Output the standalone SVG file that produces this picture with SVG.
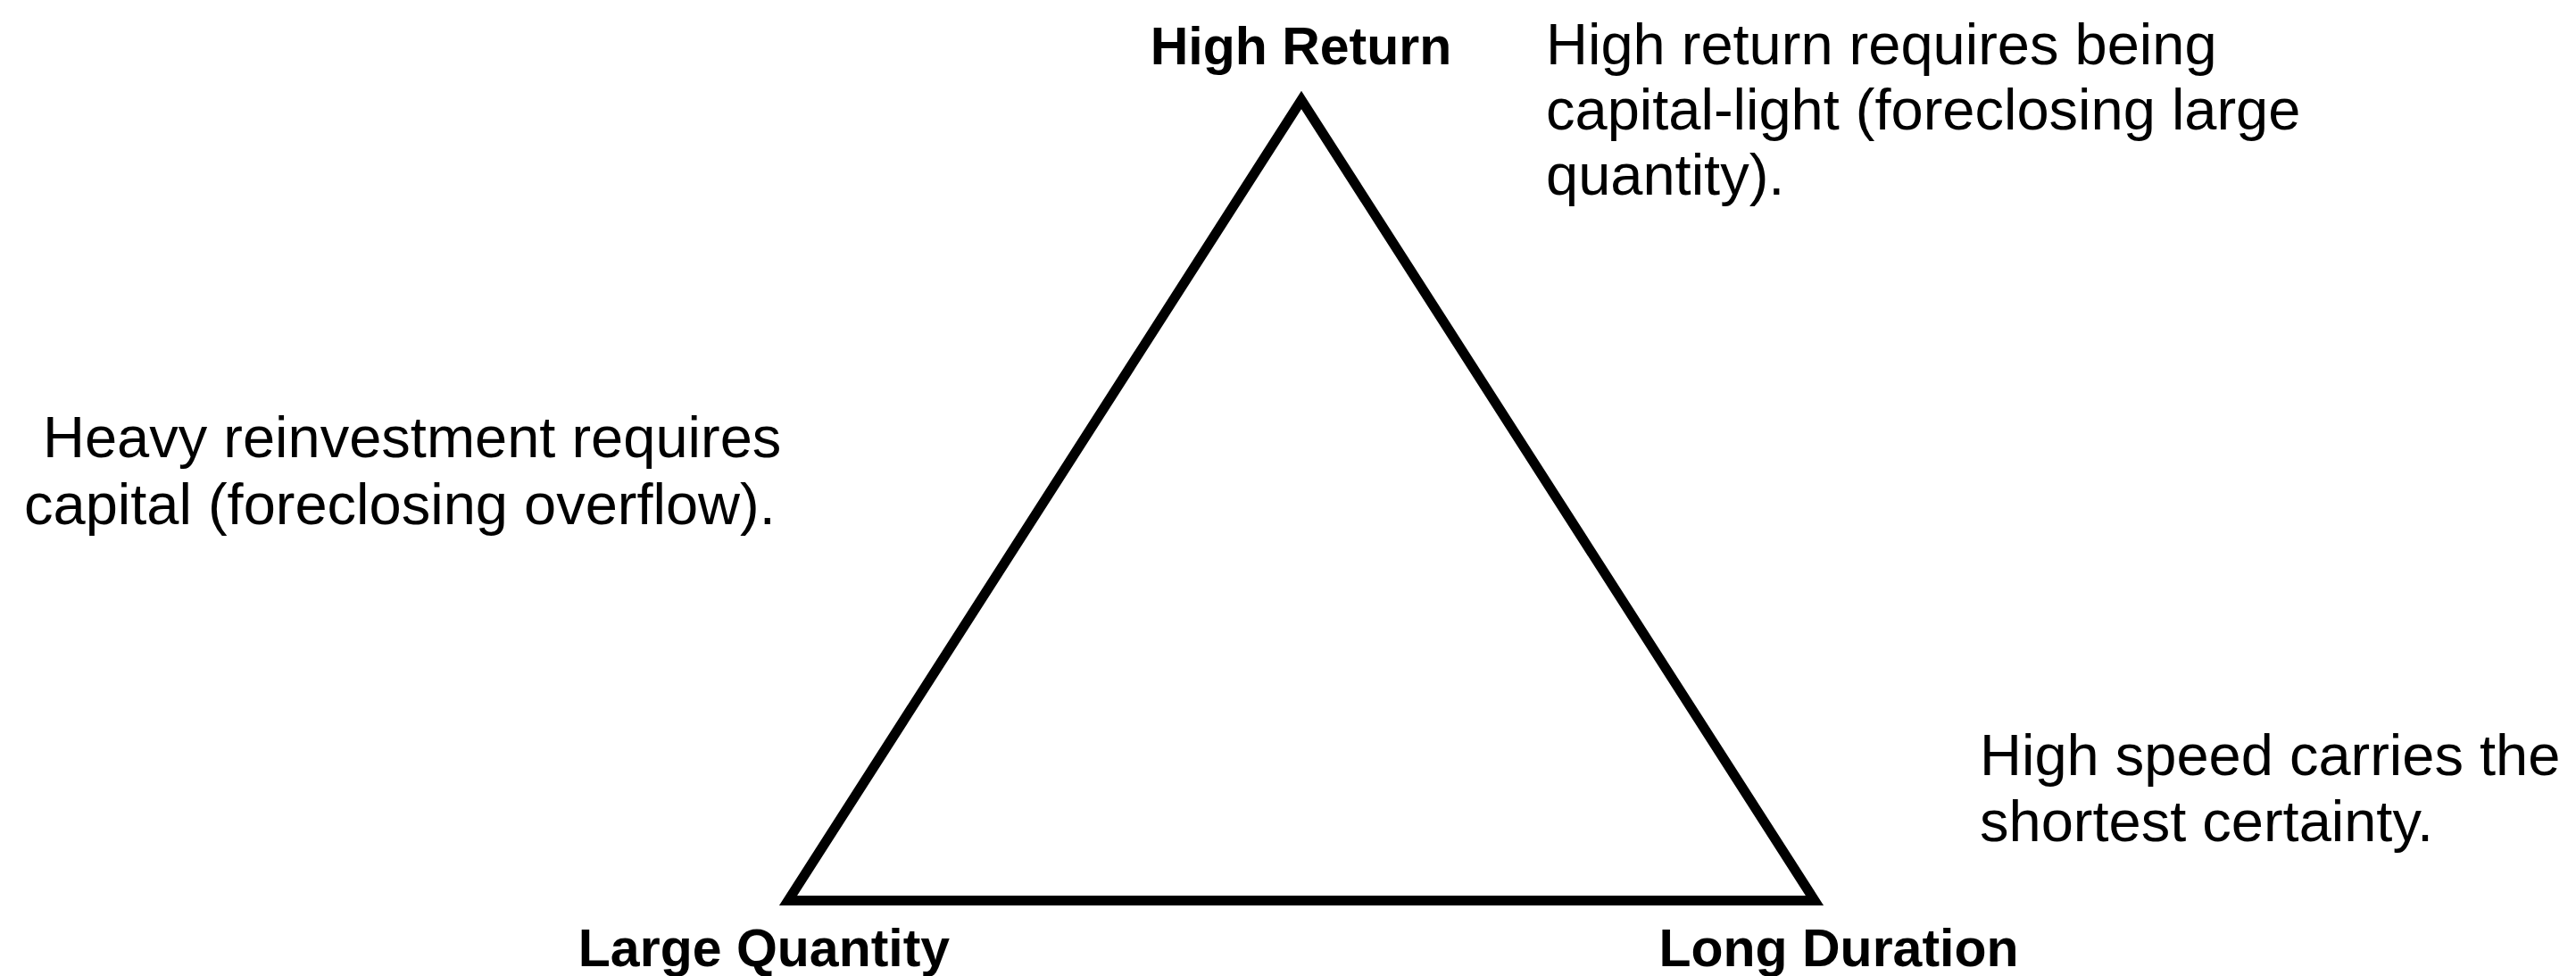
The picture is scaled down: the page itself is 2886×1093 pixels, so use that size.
<svg xmlns="http://www.w3.org/2000/svg" width="2886" height="1093" viewBox="0 0 2886 1093">
  <style>
    .bg { fill: #ffffff; }
    .label { font-family: "Liberation Sans", Arial, Helvetica, sans-serif; font-weight: bold; font-size: 59px; fill: #000000; text-anchor: middle; }
    .note { font-family: "Liberation Sans", Arial, Helvetica, sans-serif; font-size: 65px; fill: #000000; }
    .edge { fill: none; stroke: #000000; stroke-width: 11; stroke-linejoin: miter; stroke-miterlimit: 10; }
  </style>
  <rect class="bg" x="0" y="0" width="2886" height="1093"/>
  <g id="connectors">
    <polygon class="edge" points="1458,112 2033,1008.5 883,1008.5"/>
  </g>
  <g id="node-high-return">
    <text class="label" x="1457.5" y="72">High Return</text>
  </g>
  <g id="node-large-quantity">
    <text class="label" x="856" y="1082">Large Quantity</text>
  </g>
  <g id="node-long-duration">
    <text class="label" x="2060" y="1082">Long Duration</text>
  </g>
  <g id="note-high-return">
    <text class="note" x="1732" y="72">High return requires being</text>
    <text class="note" x="1732" y="145">capital-light (foreclosing large</text>
    <text class="note" x="1732" y="218">quantity).</text>
  </g>
  <g id="note-large-quantity">
    <text class="note" x="48" y="512">Heavy reinvestment requires</text>
    <text class="note" x="27" y="587">capital (foreclosing overflow).</text>
  </g>
  <g id="note-long-duration">
    <text class="note" x="2218" y="868">High speed carries the</text>
    <text class="note" x="2218" y="942">shortest certainty.</text>
  </g>
</svg>
